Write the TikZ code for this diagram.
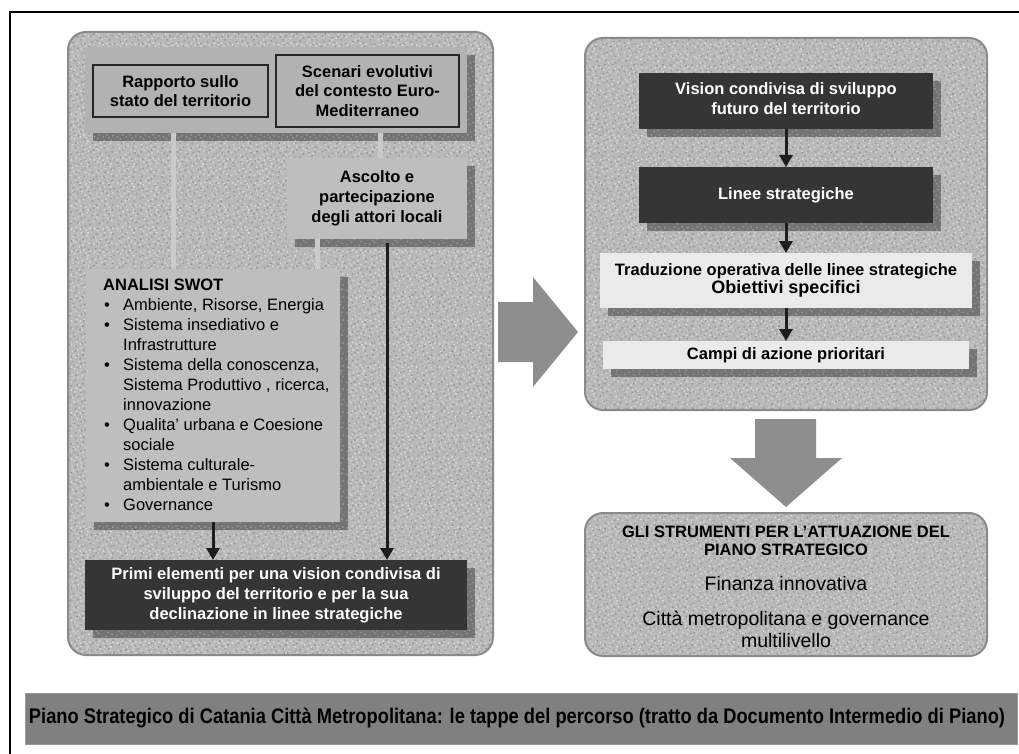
\documentclass[tikz,border=0pt]{standalone}
\usepackage{fontspec}
\setmainfont{Liberation Sans}
\usetikzlibrary{arrows.meta,patterns}
\definecolor{panelfill}{HTML}{B8B8B8}
\definecolor{panelline}{HTML}{8A8A8A}
\definecolor{shadowcol}{HTML}{747474}
\definecolor{shadowspeck}{HTML}{959595}
\definecolor{bandcol}{HTML}{B2B2B2}
\definecolor{ascol}{HTML}{BEBEBE}
\definecolor{boxline}{HTML}{262626}
\definecolor{darkcol}{HTML}{353535}
\definecolor{lightcol}{HTML}{EAEAEA}
\definecolor{conncol}{HTML}{CACACA}
\definecolor{arrowcol}{HTML}{1E1E1E}
\definecolor{bigcol}{HTML}{8E8E8E}
\definecolor{barcol}{HTML}{808080}
\definecolor{speckL}{HTML}{D8D8D8}
\definecolor{speckD}{HTML}{979797}
\pgfdeclarepatternformonly{specklight}{\pgfpointorigin}{\pgfqpoint{23pt}{23pt}}{\pgfqpoint{23pt}{23pt}}{%
  \foreach \a/\b in {1/3,5/17,9/8,14/2,18/12,21/20,3/11,7/21,12/15,16/6,20/4,2/19,10/0.5,13/10,17/18,6/5,19/15,8/13,15/21,21/9,4/7,11/19}{%
    \pgfpathrectangle{\pgfqpoint{\a pt}{\b pt}}{\pgfqpoint{1.6pt}{1.6pt}}}%
  \pgfusepath{fill}}
\pgfdeclarepatternformonly{speckdark}{\pgfpointorigin}{\pgfqpoint{29pt}{29pt}}{\pgfqpoint{29pt}{29pt}}{%
  \foreach \a/\b in {2/7,6/24,11/3,15/15,20/9,25/22,4/16,9/27,13/20,18/1,23/13,27/5,1/11,8/12,17/26,22/18,26/27,12/8,5/1,19/21,24/4,10/17,27/14,3/22,16/11}{%
    \pgfpathrectangle{\pgfqpoint{\a pt}{\b pt}}{\pgfqpoint{1.6pt}{1.6pt}}}%
  \pgfusepath{fill}}
\newcommand\fsa{\fontsize{16.5pt}{19.5pt}\selectfont}
\newcommand\fsb{\fontsize{16.5pt}{20pt}\selectfont}
\newcommand\fsc{\fontsize{16.5pt}{18pt}\selectfont}
\newcommand\fsd{\fontsize{19.5pt}{22pt}\selectfont}
\newcommand\fse{\fontsize{18pt}{22pt}\selectfont}
\newcommand\bul{\makebox[20pt][l]{\hspace*{1pt}\textbullet}}
\newcommand\ind{\hspace*{20pt}}
\begin{document}
\begin{tikzpicture}[x=1pt,y=-1pt,
  panel/.style={draw=panelline,line width=2pt,rounded corners=18pt},
  shadowbox/.style={fill=shadowcol,postaction={pattern=specklight,pattern color=shadowspeck}},
  base/.style={inner sep=0pt,outer sep=0pt,align=center},
  bandbox/.style={base,fill=bandcol},
  framed/.style={base,fill=bandcol,draw=boxline,line width=1.3pt,font=\fsa\bfseries},
  graybox/.style={base,fill=ascol,font=\fsb\bfseries},
  darkbox/.style={base,fill=darkcol,text=white,font=\fsb\bfseries},
  lightbox/.style={base,fill=lightcol,font=\fsa\bfseries},
  conn/.style={draw=conncol,line width=5pt},
  flow/.style={draw=arrowcol,fill=arrowcol,line width=3pt,-{Triangle[width=13pt,length=12pt]}},
  bigarrow/.style={fill=bigcol},
  txt/.style={inner sep=0pt,outer sep=0pt,align=center},
  sz/.style args={#1x#2}{minimum width=#1pt,minimum height=#2pt},
  textured/.style={rounded corners=18pt,fill=panelfill,
    postaction={pattern=specklight,pattern color=speckL},
    postaction={pattern=speckdark,pattern color=speckD}}
]
\useasboundingbox (0,0) rectangle (1019,754);
\fill[white] (0,0) rectangle (1019,754);
% outer frame (top and left)
\draw[line width=1.5pt,black] (1019,12) -- (10,12) -- (10,754);

% ---------- panels with texture ----------
\path[textured] (68,32) rectangle (493,655);
\draw[panel] (68,32) rectangle (493,655);
\path[textured] (585,38) rectangle (987,410);
\draw[panel] (585,38) rectangle (987,410);
\path[textured] (585,513) rectangle (987,656);
\draw[panel] (585,513) rectangle (987,656);

% ---------- left panel content ----------
\path[shadowbox] (93,55) rectangle (475,141);
\path[shadowbox] (295,166) rectangle (475,247);
\path[shadowbox] (94,277) rectangle (348,530);
\path[shadowbox] (93,568) rectangle (475,638);

\node[bandbox,sz=382x86] (band) at (276,90) {};
\node[framed,sz=175x52] (rap) at (180.5,91) {Rapporto sullo\\stato del territorio};
\node[framed,sz=183x72] (scen) at (367.5,91) {Scenari evolutivi\\del contesto Euro-\\Mediterraneo};
\node[graybox,sz=180x81] (asc) at (377,198.5) {Ascolto e\\partecipazione\\degli attori locali};
\node[graybox,sz=254x253] (swot) at (213,395.5) {};
\node[anchor=north west,align=left,inner sep=0pt,font=\fsb] (swottxt) at (103,276)
 {\strut\textbf{ANALISI SWOT}\\
  \bul Ambiente, Risorse, Energia\\
  \bul Sistema insediativo e\\
  \ind Infrastrutture\\
  \bul Sistema della conoscenza,\\
  \ind Sistema Produttivo , ricerca,\\
  \ind innovazione\\
  \bul Qualita' urbana e Coesione\\
  \ind sociale\\
  \bul Sistema culturale-\\
  \ind ambientale e Turismo\\
  \bul Governance};
\node[darkbox,sz=382x70] (primi) at (276,595) {\raisebox{-3pt}{\begin{tabular}{@{}c@{}}Primi elementi per una vision condivisa di\\sviluppo del territorio e per la sua\\declinazione in linee strategiche\end{tabular}}};

% light connectors
\coordinate (l1) at ([xshift=-7pt]rap.south);
\coordinate (l2) at ([xshift=3pt]asc.north);
\coordinate (l3) at ([xshift=-60pt]asc.south);
\coordinate (l4) at ([xshift=10pt]asc.south);
\draw[conn] (l1 |- band.south) -- (l1 |- swot.north);
\draw[conn] (l2 |- band.south) -- (l2);
\draw[conn] (l3) -- (l3 |- swot.north);
% dark arrows
\draw[flow] (swot.south) -- (swot.south |- primi.north);
\draw[flow] ([yshift=-4pt]l4) -- (l4 |- primi.north);

% ---------- big arrows ----------
\fill[bigarrow] (498,302) -- (533,302) -- (533,277) -- (578,332) -- (533,387) -- (533,362) -- (498,362) -- cycle;
\fill[bigarrow] (755,419) -- (816,419) -- (816,458) -- (842,458) -- (786,507) -- (730,458) -- (755,458) -- cycle;

% ---------- right panel content ----------
\path[shadowbox] (647,81) rectangle (941,137);
\path[shadowbox] (647,175) rectangle (941,231);
\path[shadowbox] (608,261) rectangle (980,316);
\path[shadowbox] (611,349) rectangle (977,377);
\node[darkbox,sz=294x56] (vision) at (786,101) {\raisebox{-2pt}{\begin{tabular}{@{}c@{}}Vision condivisa di sviluppo\\futuro del territorio\end{tabular}}};
\node[darkbox,sz=294x56] (linee) at (786,195) {Linee strategiche};
\node[lightbox,sz=372x55] (trad) at (786,280.5) {\raisebox{-3pt}{\begin{tabular}{@{}c@{}}Traduzione operativa delle linee strategiche\\[-1pt]{\fse Obiettivi specifici}\end{tabular}}};
\node[lightbox,sz=366x28] (campi) at (786,355) {Campi di azione prioritari};
\draw[flow] (vision.south) -- (linee.north);
\draw[flow] (linee.south) -- (trad.north);
\draw[flow] (trad.south) -- (campi.north);

% ---------- bottom right panel text ----------
\node[txt,anchor=north,font=\fsc\bfseries] (gli) at (786,524.4) {\strut GLI STRUMENTI PER L’ATTUAZIONE DEL\\PIANO STRATEGICO};
\node[txt,anchor=base,font=\fsd] (fin) at (786,590) {Finanza innovativa};
\node[txt,anchor=north,font=\fsd] (citta) at (786,609.6) {\strut Città metropolitana e governance\\multilivello};

% ---------- title bar ----------
\node[base,fill=barcol,draw=barcol!80!white,line width=0.8pt,sz=992x51] (bar) at (521,718.5) {};
\node[txt,anchor=base] (bartxt) at (517,723) {\resizebox{976pt}{15.5pt}{\bfseries Piano Strategico di Catania Città Metropolitana: le tappe del percorso (tratto da Documento Intermedio di Piano)}};
\end{tikzpicture}
\end{document}
